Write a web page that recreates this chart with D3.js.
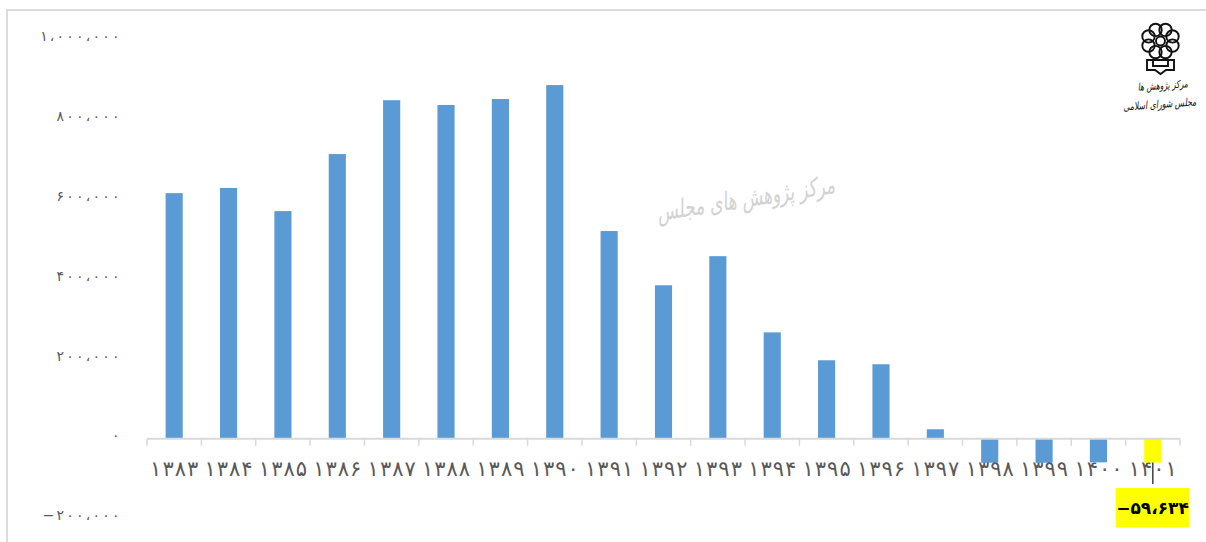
<!DOCTYPE html>
<html lang="fa">
<head>
<meta charset="utf-8">
<script src="https://cdn.jsdelivr.net/npm/d3@7/dist/d3.min.js"></script>
<style>
html,body{margin:0;padding:0;background:#fff;overflow:hidden}
svg{display:block}
.num{direction:ltr;unicode-bidi:bidi-override;font-family:"DejaVu Sans","Noto Sans",sans-serif}
</style>
</head>
<body>
<svg id="c" width="1206" height="542"></svg>
<script>
const years = ["۱۳۸۳","۱۳۸۴","۱۳۸۵","۱۳۸۶","۱۳۸۷","۱۳۸۸","۱۳۸۹","۱۳۹۰","۱۳۹۱","۱۳۹۲","۱۳۹۳","۱۳۹۴","۱۳۹۵","۱۳۹۶","۱۳۹۷","۱۳۹۸","۱۳۹۹","۱۴۰۰","۱۴۰۱"];
const values = [616000,629000,571000,714000,849000,837000,852000,887000,521000,385000,458000,267000,197000,187000,24000,-60000,-60000,-59000,-59634];
const yTicks = [-200000,0,200000,400000,600000,800000,1000000];
const highlightLabel = "−۵۹،۶۳۴";
const watermark = "مرکز پژوهش های مجلس";
const logoLines = ["مرکز پژوهش ها","مجلس شورای اسلامی"];

const fa = n => {
  const s = d3.format(",")(Math.abs(n)).replace(/,/g,"،").replace(/\d/g,d=>"۰۱۲۳۴۵۶۷۸۹"[+d]);
  return (n<0?"−":"")+s;
};
// per-character gap (CSS letter-spacing has no effect on these digits)
const gaps = (s,g) => Array.from(s,(c,i)=>i===0?0:g).join(" ");
const svg = d3.select("#c");
const x = d3.scaleBand().domain(years).range([147,1180]).paddingInner(0.685).paddingOuter(0.3425);
const y = d3.scaleLinear().domain([-200000,1000000]).range([518.6,40]);

// frame
svg.append("path").attr("d","M7,542V10H1206").attr("fill","none").attr("stroke","#dcdcdc").attr("stroke-width",2);

// watermark
svg.append("text").attr("transform","translate(747,207) rotate(-9) scale(1,1.5)")
  .attr("text-anchor","middle").attr("direction","rtl")
  .style("font-family",'"DejaVu Sans",sans-serif').style("font-style","italic")
  .style("font-size","17px").attr("fill","#d2d2d2").text(watermark);

// bars
svg.append("g").selectAll("rect").data(values).join("rect")
  .attr("x",(d,i)=>x(years[i]))
  .attr("width",x.bandwidth())
  .attr("y",d=>Math.min(y(d),y(0)))
  .attr("height",d=>Math.abs(y(d)-y(0)))
  .attr("fill",(d,i)=>i===values.length-1?"#ffff00":"#5b9bd5");

// y axis labels
const yAxis = d3.axisLeft(y).tickValues(yTicks).tickFormat(fa).tickSize(0).tickPadding(0);
const gy = svg.append("g").attr("transform","translate(119.5,-3.5)").call(yAxis);
gy.select(".domain").remove();
gy.selectAll("text").attr("class","num").attr("fill","#595959")
  .style("font-size","14px").attr("dx",function(){return gaps(this.textContent,2.2);});

// x axis
const edges = years.map(d=>x(d)-x.step()*0.3425).concat([1180]);
const zero = y(0);
svg.append("g").selectAll("line").data(edges).join("line")
  .attr("x1",d=>d).attr("x2",d=>d).attr("y1",zero).attr("y2",zero+7)
  .attr("stroke","#d9d9d9").attr("stroke-width",1.5);
svg.append("line").attr("x1",147).attr("x2",1180).attr("y1",zero).attr("y2",zero)
  .attr("stroke","#d9d9d9").attr("stroke-width",2);
svg.append("g").selectAll("text").data(years).join("text")
  .attr("class","num").attr("x",d=>x(d)+x.bandwidth()/2).attr("y",476)
  .attr("dx",d=>gaps(d,1))
  .attr("text-anchor","middle").attr("fill","#595959")
  .style("font-size","21px").text(d=>d);

// highlighted data label
const last = values.length-1;
const cx = x(years[last])+x.bandwidth()/2;
svg.append("line").attr("x1",cx).attr("x2",cx).attr("y1",y(values[last])).attr("y2",484)
  .attr("stroke","#333").attr("stroke-width",1.4);
svg.append("rect").attr("x",1116).attr("y",488).attr("width",73).attr("height",39.5).attr("fill","#ffff00");
svg.append("text").attr("class","num").attr("x",1152.5).attr("y",514).attr("text-anchor","middle")
  .attr("fill","#000").style("font-size","17px").style("font-weight","bold").text(highlightLabel);

// logo
const logo = svg.append("g").attr("fill","none").attr("stroke","#111").attr("stroke-width",1.9);
const lc = [1160.5,41];
d3.range(8).forEach(i=>{
  const a = i*Math.PI/4+Math.PI/8;
  logo.append("circle").attr("cx",lc[0]+Math.cos(a)*13).attr("cy",lc[1]+Math.sin(a)*12).attr("r",6.2);
});
logo.append("circle").attr("cx",lc[0]).attr("cy",lc[1]).attr("r",4.5);
logo.append("path").attr("d","M1147,60H1174V70H1166L1160.5,74L1155,70H1147ZM1153,60V66H1168V60");
[[1163,89,logoLines[0],"7.5px"],[1160,108,logoLines[1],"7.8px"]].forEach(([tx,ty,t,fs])=>{
  svg.append("text").attr("transform",`translate(${tx},${ty}) rotate(-4) scale(1,1.4)`).attr("text-anchor","middle").attr("direction","rtl")
    .style("font-family",'"DejaVu Sans",sans-serif').style("font-style","italic")
    .style("font-size",fs).attr("fill","#111").text(t);
});
</script>
</body>
</html>
